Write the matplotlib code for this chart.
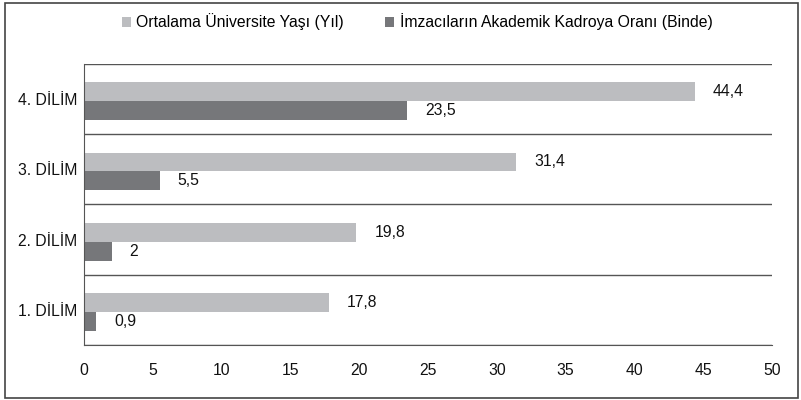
import numpy as np
import matplotlib.pyplot as plt
from matplotlib.patches import Rectangle

plt.rcParams['font.family'] = ['Liberation Sans', 'DejaVu Sans']

# Veriler
categories = ['1. DİLİM', '2. DİLİM', '3. DİLİM', '4. DİLİM']
yas = [17.8, 19.8, 31.4, 44.4]
oran = [0.9, 2, 5.5, 23.5]
series_names = ['Ortalama Üniversite Yaşı (Yıl)',
                'İmzacıların Akademik Kadroya Oranı (Binde)']

light = '#bcbdc0'
dark = '#76777a'
fs = 11.3

fig = plt.figure(figsize=(8.01, 4), dpi=100)
ax = fig.add_axes([84 / 801, 55 / 400, (772 - 84) / 801, (345 - 64) / 400])

y = np.arange(len(categories))
h = 0.27
shift = -0.03
b1 = ax.barh(y + h / 2 + shift, yas, height=h, color=light, label=series_names[0])
b2 = ax.barh(y - h / 2 + shift, oran, height=h, color=dark, label=series_names[1])

def fmt(v):
    s = f'{v:g}'
    return s.replace('.', ',')

for bars, vals in ((b1, yas), (b2, oran)):
    for rect, v in zip(bars, vals):
        ax.annotate(fmt(v), (v, rect.get_y() + rect.get_height() / 2),
                    xytext=(13, 0), textcoords='offset points',
                    ha='left', va='center', fontsize=fs, color='#111111')

ax.set_xlim(0, 50)
ax.set_ylim(-0.5, len(categories) - 0.5)
ax.set_xticks(np.arange(0, 51, 5))
ax.set_yticks(y)
ax.set_yticklabels(categories)
ax.tick_params(axis='both', length=0, labelsize=fs, colors='#111111')
ax.tick_params(axis='x', pad=13)
ax.tick_params(axis='y', pad=5)

# ayırıcı çizgiler
for g in np.arange(-0.5, len(categories), 1):
    ax.axhline(g, color='#555555', lw=1, zorder=0)

for s in ['top', 'right']:
    ax.spines[s].set_visible(False)
ax.spines['left'].set_color('#555555')
ax.spines['bottom'].set_color('#555555')

fig.legend(handles=[b1, b2], loc='center', bbox_to_anchor=(417 / 801, 1 - 22 / 400),
           ncol=2, frameon=False, fontsize=fs, handlelength=0.6,
           handleheight=0.6, handletextpad=0.35, columnspacing=2.6)

fig.patches.append(Rectangle((5 / 801, 2 / 400), 793 / 801, 395 / 400,
                             transform=fig.transFigure, fill=False,
                             edgecolor='#444444', lw=1.2))

fig.savefig('out.png', dpi=100)
